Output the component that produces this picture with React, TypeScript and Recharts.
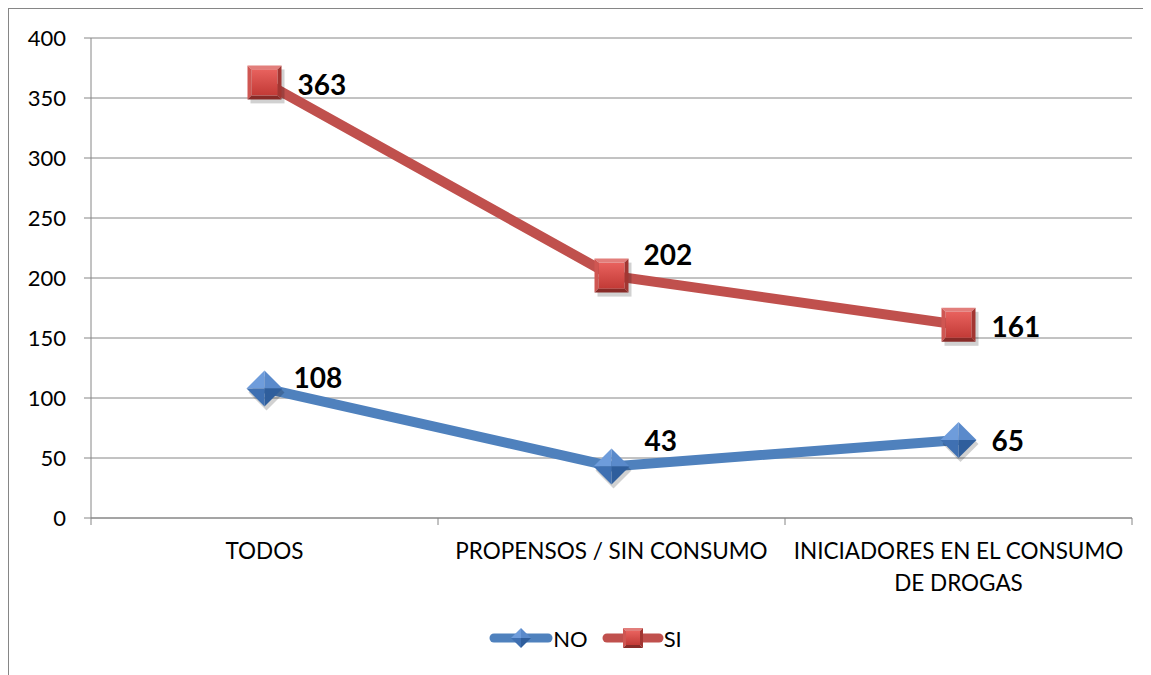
import React from 'react';
import { LineChart, Line, XAxis, YAxis, CartesianGrid, Legend } from 'recharts';

const categories = ['TODOS', 'PROPENSOS / SIN CONSUMO', 'INICIADORES EN EL CONSUMO DE DROGAS'];
const noValues = [108, 43, 65];
const siValues = [363, 202, 161];
const yTicks = [0, 50, 100, 150, 200, 250, 300, 350, 400];
const seriesNames = ['NO', 'SI'];

const data = categories.map((c, i) => ({ name: c, NO: noValues[i], SI: siValues[i] }));

const FONT = 'Lato, "Open Sans", sans-serif';
const BLUE = '#4F81BD';
const RED = '#C0504D';
const GRID = '#868686';
const CAT_MARGIN = 25;
const MAX_CHARS = 26;

// label nudges (layout only)
const noLabelDy = [-11, -26, 0];
const siLabelDy = [2, -22, 1];
const noLabelDx = [29, 33, 33];
const siLabelDx = [33, 32, 33];

const wrapWords = (s: string, max: number) => {
  const words = s.split(' ');
  const lines: string[] = [];
  let cur = '';
  words.forEach((w) => {
    const next = cur ? `${cur} ${w}` : w;
    if (next.length > max && cur) {
      lines.push(cur);
      cur = w;
    } else cur = next;
  });
  if (cur) lines.push(cur);
  return lines;
};

const Diamond = ({ cx, cy, r = 18, shadow = true }: any) => (
  <g>
    {shadow && (
      <polygon
        points={`${cx + 2},${cy - r + 4} ${cx + r + 2},${cy + 4} ${cx + 2},${cy + r + 4} ${cx - r + 2},${cy + 4}`}
        fill="#000"
        opacity={0.18}
      />
    )}
    <polygon points={`${cx - r},${cy} ${cx},${cy - r} ${cx},${cy}`} fill="#6E9CDB" />
    <polygon points={`${cx},${cy - r} ${cx + r},${cy} ${cx},${cy}`} fill="#5A8ACB" />
    <polygon points={`${cx + r},${cy} ${cx},${cy + r} ${cx},${cy}`} fill="#2F5E9C" />
    <polygon points={`${cx},${cy + r} ${cx - r},${cy} ${cx},${cy}`} fill="#3F70B2" />
  </g>
);

const Square = ({ cx, cy, s = 17, shadow = true, gid }: any) => {
  const i = Math.max(3, Math.round(s * 0.22));
  return (
    <g>
      <defs>
        <linearGradient id={gid} x1="0" y1="0" x2="0" y2="1">
          <stop offset="0%" stopColor="#E8625E" />
          <stop offset="100%" stopColor="#C23A36" />
        </linearGradient>
      </defs>
      {shadow && <rect x={cx - s + 3} y={cy - s + 4} width={2 * s} height={2 * s} fill="#000" opacity={0.18} />}
      <polygon points={`${cx - s},${cy - s} ${cx + s},${cy - s} ${cx + s - i},${cy - s + i} ${cx - s + i},${cy - s + i}`} fill="#E27E7B" />
      <polygon points={`${cx - s},${cy - s} ${cx - s + i},${cy - s + i} ${cx - s + i},${cy + s - i} ${cx - s},${cy + s}`} fill="#CF5652" />
      <polygon points={`${cx + s},${cy - s} ${cx + s},${cy + s} ${cx + s - i},${cy + s - i} ${cx + s - i},${cy - s + i}`} fill="#A23632" />
      <polygon points={`${cx - s},${cy + s} ${cx + s},${cy + s} ${cx + s - i},${cy + s - i} ${cx - s + i},${cy + s - i}`} fill="#882B28" />
      <rect x={cx - s + i} y={cy - s + i} width={2 * (s - i)} height={2 * (s - i)} fill={`url(#${gid})`} />
    </g>
  );
};

const CatTick = (props: any) => {
  const { x, y, payload, index, visibleTicksCount } = props;
  const lines = wrapWords(String(payload.value), MAX_CHARS);
  const axisY = y - CAT_MARGIN;
  const half = payload.offset || 0;
  const isLast = index === (visibleTicksCount ?? categories.length) - 1;
  return (
    <g>
      <line x1={x - half} y1={axisY} x2={x - half} y2={axisY + 7} stroke={GRID} />
      {isLast && <line x1={x + half} y1={axisY} x2={x + half} y2={axisY + 7} stroke={GRID} />}
      <text x={x} y={y} textAnchor="middle" fontSize={22.5} fontFamily={FONT} fill="#000">
        {lines.map((l, k) => (
          <tspan key={k} x={x} dy={k === 0 ? '0.71em' : 32}>
            {l}
          </tspan>
        ))}
      </text>
    </g>
  );
};

const makeLabel = (dxs: number[], dys: number[]) => (props: any) => {
  const { x, y, value, index } = props;
  return (
    <text
      key={`lbl-${index}`}
      x={x + dxs[index]}
      y={y + dys[index]}
      dominantBaseline="central"
      fontFamily={FONT}
      fontWeight="bold"
      fontSize={28}
      fill="#000"
    >
      {value}
    </text>
  );
};

const renderLegend = () => (
  <div
    style={{
      display: 'flex',
      justifyContent: 'center',
      alignItems: 'center',
      height: 40,
      paddingLeft: 30,
      fontFamily: FONT,
      fontSize: 22,
      color: '#000',
    }}
  >
    <svg width={64} height={24} style={{ display: 'block' }}>
      <line x1={5} y1={12} x2={59} y2={12} stroke={BLUE} strokeWidth={9} strokeLinecap="round" />
      <Diamond cx={32} cy={12} r={10} shadow={false} />
    </svg>
    <span style={{ marginRight: 14 }}>{seriesNames[0]}</span>
    <svg width={62} height={24} style={{ display: 'block' }}>
      <line x1={5} y1={12} x2={57} y2={12} stroke={RED} strokeWidth={9} strokeLinecap="round" />
      <Square cx={31} cy={12} s={10} shadow={false} gid="lg-sq" />
    </svg>
    <span>{seriesNames[1]}</span>
  </div>
);

export default function App() {
  return (
    <div
      style={{
        width: 1143,
        height: 667,
        borderLeft: `1px solid ${GRID}`,
        borderTop: `1px solid ${GRID}`,
        boxSizing: 'border-box',
        overflow: 'hidden',
        background: '#fff',
      }}
    >
      <LineChart width={1142} height={666} data={data} margin={{ top: 29, right: 19, bottom: 17, left: 0 }}>
        <CartesianGrid vertical={false} stroke={GRID} strokeWidth={1} />
        <XAxis
          xAxisId="cat"
          dataKey="name"
          scale="band"
          height={100}
          tickLine={false}
          tickSize={0}
          tickMargin={CAT_MARGIN}
          axisLine={{ stroke: GRID }}
          interval={0}
          tick={<CatTick />}
        />
        <YAxis
          width={82}
          domain={[0, 400]}
          ticks={yTicks}
          tickSize={7}
          tickMargin={18}
          stroke={GRID}
          tick={{ fill: '#000', fontSize: 22, fontFamily: FONT }}
          axisLine={{ stroke: GRID }}
          tickLine={{ stroke: GRID }}
        />
        <Legend verticalAlign="bottom" content={renderLegend} />
        <Line
          xAxisId="cat"
          dataKey="NO"
          stroke={BLUE}
          strokeWidth={10}
          isAnimationActive={false}
          activeDot={false}
          dot={(p: any) => <Diamond key={`dn-${p.index}`} cx={p.cx} cy={p.cy} />}
          label={makeLabel(noLabelDx, noLabelDy)}
        />
        <Line
          xAxisId="cat"
          dataKey="SI"
          stroke={RED}
          strokeWidth={10}
          isAnimationActive={false}
          activeDot={false}
          dot={(p: any) => <Square key={`ds-${p.index}`} cx={p.cx} cy={p.cy} gid={`sq-${p.index}`} />}
          label={makeLabel(siLabelDx, siLabelDy)}
        />
      </LineChart>
    </div>
  );
}
